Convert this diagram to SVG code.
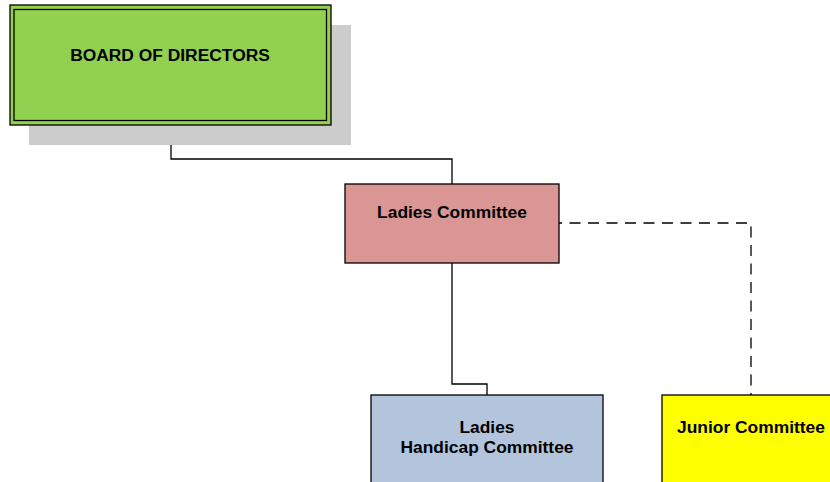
<svg xmlns="http://www.w3.org/2000/svg" width="830" height="482" viewBox="0 0 830 482">
<style>
.box{stroke:#000;stroke-width:1.3}
.lbl{font-family:"Liberation Sans",Arial,sans-serif;font-weight:bold;font-size:17.4px;fill:#000;text-anchor:middle}
.ln{fill:none;stroke:#000;stroke-width:1.3}
.dash{stroke-dasharray:11,7.5;stroke-dashoffset:8}
</style>
<rect width="830" height="482" fill="#fff"/>
<g id="connectors">
<polyline class="ln" points="171,125 171,159 452,159 452,184"/>
<polyline class="ln" points="452,263 452,384 487,384 487,395"/>
<polyline class="ln dash" points="559,223 751,223 751,395"/>
</g>
<g id="board">
<rect x="29" y="25" width="322" height="120" fill="#cccccc"/>
<rect class="box" x="10" y="5" width="321" height="120" fill="#92d050"/>
<rect x="14" y="9.5" width="312.5" height="111" fill="none" stroke="#000" stroke-width="1.3"/>
<text class="lbl" x="170" y="61">BOARD OF DIRECTORS</text>
</g>
<g id="ladies">
<rect class="box" x="345" y="184" width="214" height="79" fill="#d99694"/>
<text class="lbl" x="452" y="218">Ladies Committee</text>
</g>
<g id="handicap">
<rect class="box" x="371" y="395" width="232" height="95" fill="#b3c5dd"/>
<text class="lbl" x="487" y="433">Ladies</text>
<text class="lbl" x="487" y="453">Handicap Committee</text>
</g>
<g id="junior">
<rect class="box" x="662" y="395" width="200" height="95" fill="#ffff00"/>
<text class="lbl" x="751" y="433">Junior Committee</text>
</g>
</svg>
